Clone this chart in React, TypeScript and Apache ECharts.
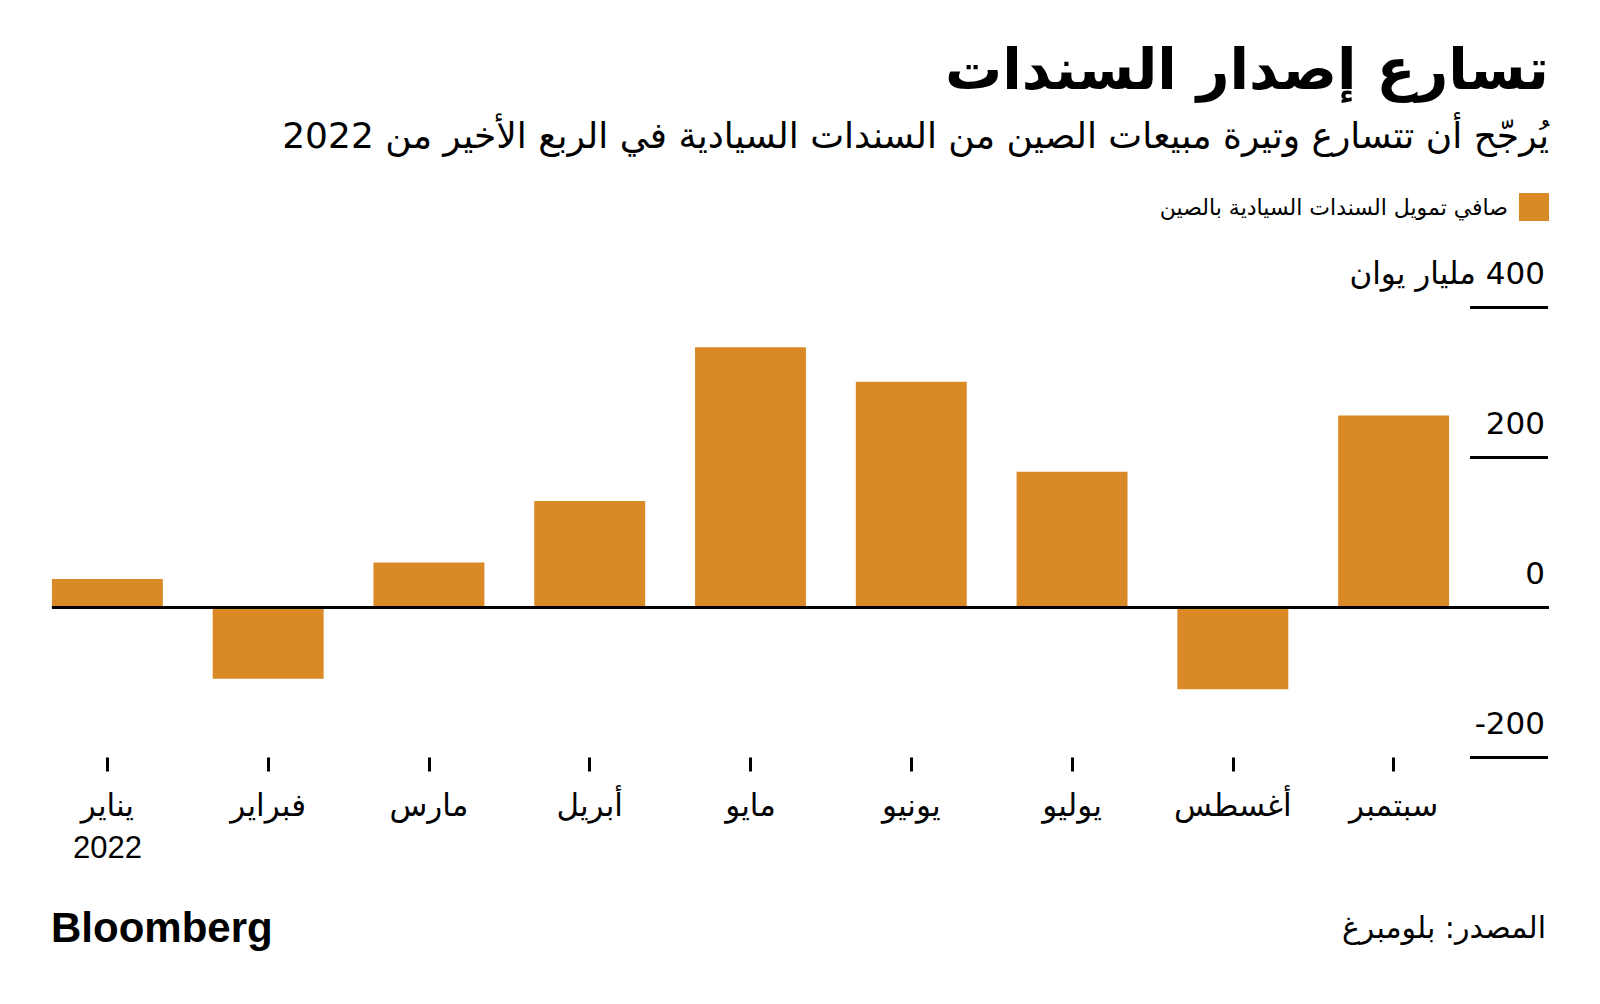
import React, { useEffect, useRef } from "react";
import * as echarts from "echarts";

const RLE = "\u202B";
const LRE = "\u202A";
const PDF = "\u202C";
const rtl = (s: string) => RLE + s + PDF;
const ltr = (s: string) => LRE + s + PDF;

const TITLE = "تسارع إصدار السندات";
const SUBTITLE = "يُرجّح أن تتسارع وتيرة مبيعات الصين من السندات السيادية في الربع الأخير من 2022";
const SERIES_NAME = "صافي تمويل السندات السيادية بالصين";
const SOURCE = "المصدر: بلومبرغ";
const BRAND = "Bloomberg";
const UNIT = "مليار يوان";
const YEAR = "2022";

const months = ["يناير", "فبراير", "مارس", "أبريل", "مايو", "يونيو", "يوليو", "أغسطس", "سبتمبر"];
const values = [38, -95, 60, 142, 347, 301, 181, -109, 256];
const Y_MIN = -200;
const Y_MAX = 400;
const Y_STEP = 200;

const BAR_COLOR = "#D98A26";
const BAR_RATIO = 0.69;
const FONT = "'Liberation Sans', 'DejaVu Sans', sans-serif";
const AR_FONT = "'DejaVu Sans', sans-serif";

export default function App() {
  const ref = useRef<HTMLDivElement>(null);
  useEffect(() => {
    document.body.style.margin = "0";
    const chart = echarts.init(ref.current!, null, { renderer: "svg" });
    chart.setOption({
      animation: false,
      backgroundColor: "#ffffff",
      title: [
        {
          text: rtl(TITLE),
          right: 51,
          top: 40,
          padding: 0,
          textStyle: { fontSize: 57, fontWeight: "bold", fontFamily: AR_FONT, color: "#000" },
        },
        {
          text: rtl(SUBTITLE),
          right: 51,
          top: 117,
          padding: 0,
          textStyle: { fontSize: 36, fontWeight: "normal", fontFamily: AR_FONT, color: "#000" },
        },
        {
          text: BRAND,
          left: 51,
          top: 906,
          padding: 0,
          textStyle: { fontSize: 42, fontWeight: "bold", fontFamily: FONT, color: "#000" },
        },
        {
          text: rtl(SOURCE),
          right: 54,
          top: 912,
          padding: 0,
          textStyle: { fontSize: 30, fontWeight: "normal", fontFamily: AR_FONT, color: "#000" },
        },
      ],
      legend: {
        right: 51,
        top: 193,
        padding: 0,
        align: "right",
        itemWidth: 30,
        itemHeight: 28,
        icon: "rect",
        textStyle: { fontSize: 22, fontFamily: AR_FONT, color: "#000", padding: [0, 6, 0, 0] },
        data: [rtl(SERIES_NAME)],
      },
      grid: { left: 27, right: 126, top: 307.5, bottom: 246.5 },
      xAxis: {
        type: "category",
        data: months,
        axisLine: { show: false, onZero: false },
        axisTick: { show: true, alignWithLabel: true, length: 14, lineStyle: { color: "#000", width: 3 } },
        axisLabel: {
          margin: 27,
          fontSize: 31,
          lineHeight: 42,
          color: "#000",
          fontFamily: FONT,
          formatter: (v: string, i: number) => (i === 0 ? rtl(v) + "\n" + ltr(YEAR) : rtl(v)),
        },
      },
      yAxis: {
        type: "value",
        position: "right",
        min: Y_MIN,
        max: Y_MAX,
        interval: Y_STEP,
        offset: -4,
        axisLine: { show: false },
        splitLine: { show: false },
        axisTick: { show: true, length: 78, lineStyle: { color: "#000", width: 3 } },
        axisLabel: {
          margin: 75,
          align: "right",
          verticalAlign: "bottom",
          padding: [0, 0, 19, 0],
          fontSize: 31,
          color: "#000",
          fontFamily: AR_FONT,
          formatter: (v: number) => (v === Y_MAX ? rtl(v + " " + UNIT) : ltr(String(v))),
        },
      },
      series: [
        {
          name: rtl(SERIES_NAME),
          type: "bar",
          barWidth: BAR_RATIO * 100 + "%",
          itemStyle: { color: BAR_COLOR },
          data: values,
        },
      ],
    });

    const y0 = chart.convertToPixel({ yAxisIndex: 0 }, 0) as number;
    const xa = chart.convertToPixel({ xAxisIndex: 0 }, 0) as number;
    const xb = chart.convertToPixel({ xAxisIndex: 0 }, 1) as number;
    const band = xb - xa;
    const left = xa - (band * BAR_RATIO) / 2;
    const right = chart.getWidth() - 51;
    chart.setOption({
      graphic: [
        {
          type: "line",
          z: 100,
          shape: { x1: left, y1: y0, x2: right, y2: y0 },
          style: { stroke: "#000", lineWidth: 3 },
        },
      ],
    });

    return () => chart.dispose();
  }, []);
  return <div ref={ref} style={{ width: 1600, height: 1004 }} />;
}
